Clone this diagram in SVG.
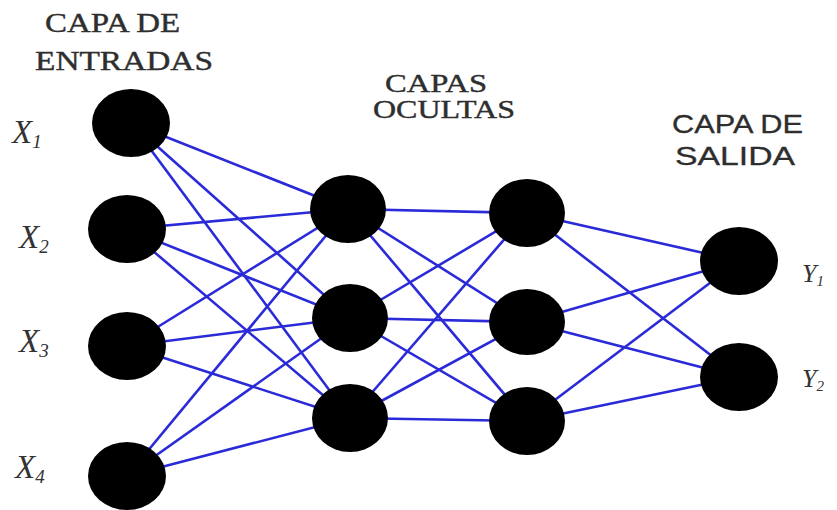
<svg xmlns="http://www.w3.org/2000/svg" width="837" height="510" viewBox="0 0 837 510">
<style>
.n{fill:#000}
.e{stroke:#2a2ad8;stroke-width:2.6;fill:none}
.t{font-family:"Liberation Serif","DejaVu Serif",serif;font-size:27px;fill:#2e2e2e;stroke:#2e2e2e;stroke-width:0.4}
.s{font-family:"Liberation Sans",Arial,sans-serif;font-size:25px;fill:#2e2e2e;stroke:#2e2e2e;stroke-width:0.3}
.v{font-family:"Liberation Serif","DejaVu Serif",serif;font-style:italic;font-size:33px;fill:#333}
.w{font-family:"Liberation Serif","DejaVu Serif",serif;font-style:italic;font-size:26px;fill:#333}
.sub{font-size:19px}
.sub2{font-size:15px}
</style>
<rect width="837" height="510" fill="#fff"/>
<g id="connectors">
<line class="e" x1="131" y1="123" x2="348" y2="209"/>
<line class="e" x1="131" y1="123" x2="350" y2="318"/>
<line class="e" x1="131" y1="123" x2="350" y2="418"/>
<line class="e" x1="127" y1="229" x2="348" y2="209"/>
<line class="e" x1="127" y1="229" x2="350" y2="318"/>
<line class="e" x1="127" y1="229" x2="350" y2="418"/>
<line class="e" x1="127" y1="346" x2="348" y2="209"/>
<line class="e" x1="127" y1="346" x2="350" y2="318"/>
<line class="e" x1="127" y1="346" x2="350" y2="418"/>
<line class="e" x1="127" y1="476" x2="348" y2="209"/>
<line class="e" x1="127" y1="476" x2="350" y2="318"/>
<line class="e" x1="127" y1="476" x2="350" y2="418"/>
<line class="e" x1="348" y1="209" x2="527" y2="213"/>
<line class="e" x1="348" y1="209" x2="527" y2="322"/>
<line class="e" x1="348" y1="209" x2="527" y2="421"/>
<line class="e" x1="350" y1="318" x2="527" y2="213"/>
<line class="e" x1="350" y1="318" x2="527" y2="322"/>
<line class="e" x1="350" y1="318" x2="527" y2="421"/>
<line class="e" x1="350" y1="418" x2="527" y2="213"/>
<line class="e" x1="350" y1="418" x2="527" y2="322"/>
<line class="e" x1="350" y1="418" x2="527" y2="421"/>
<line class="e" x1="527" y1="213" x2="739" y2="261"/>
<line class="e" x1="527" y1="213" x2="739" y2="377"/>
<line class="e" x1="527" y1="322" x2="739" y2="261"/>
<line class="e" x1="527" y1="322" x2="739" y2="377"/>
<line class="e" x1="527" y1="421" x2="739" y2="261"/>
<line class="e" x1="527" y1="421" x2="739" y2="377"/>
</g>
<g id="x1"><ellipse class="n" cx="131" cy="123" rx="39" ry="34"/><text class="v" x="12" y="143">X<tspan class="sub" dy="5">1</tspan></text></g>
<g id="x2"><ellipse class="n" cx="127" cy="229" rx="39" ry="34"/><text class="v" x="19" y="248">X<tspan class="sub" dy="5">2</tspan></text></g>
<g id="x3"><ellipse class="n" cx="127" cy="346" rx="39" ry="34"/><text class="v" x="19" y="352">X<tspan class="sub" dy="5">3</tspan></text></g>
<g id="x4"><ellipse class="n" cx="127" cy="476" rx="39" ry="34"/><text class="v" x="15" y="478">X<tspan class="sub" dy="5">4</tspan></text></g>
<g id="h1a"><ellipse class="n" cx="348" cy="209" rx="38" ry="34"/></g>
<g id="h1b"><ellipse class="n" cx="350" cy="318" rx="38" ry="34"/></g>
<g id="h1c"><ellipse class="n" cx="350" cy="418" rx="38" ry="34"/></g>
<g id="h2a"><ellipse class="n" cx="527" cy="213" rx="38" ry="34"/></g>
<g id="h2b"><ellipse class="n" cx="527" cy="322" rx="38" ry="33"/></g>
<g id="h2c"><ellipse class="n" cx="527" cy="421" rx="38" ry="34"/></g>
<g id="y1"><ellipse class="n" cx="739" cy="261" rx="39" ry="34"/><text class="w" x="802" y="282">Y<tspan class="sub2" dy="4">1</tspan></text></g>
<g id="y2"><ellipse class="n" cx="739" cy="377" rx="39" ry="34"/><text class="w" x="802" y="387">Y<tspan class="sub2" dy="4">2</tspan></text></g>
<g id="labels">
<text class="t" x="45" y="32" textLength="135" lengthAdjust="spacingAndGlyphs">CAPA DE</text>
<text class="t" x="35" y="70" textLength="178" lengthAdjust="spacingAndGlyphs">ENTRADAS</text>
<text class="t" x="385" y="92" textLength="102" lengthAdjust="spacingAndGlyphs" style="font-size:25px">CAPAS</text>
<text class="t" x="373" y="118" textLength="142" lengthAdjust="spacingAndGlyphs" style="font-size:25px">OCULTAS</text>
<text class="s" x="672" y="133" textLength="131" lengthAdjust="spacingAndGlyphs">CAPA DE</text>
<text class="s" x="675" y="165" textLength="120" lengthAdjust="spacingAndGlyphs">SALIDA</text>
</g>
</svg>
